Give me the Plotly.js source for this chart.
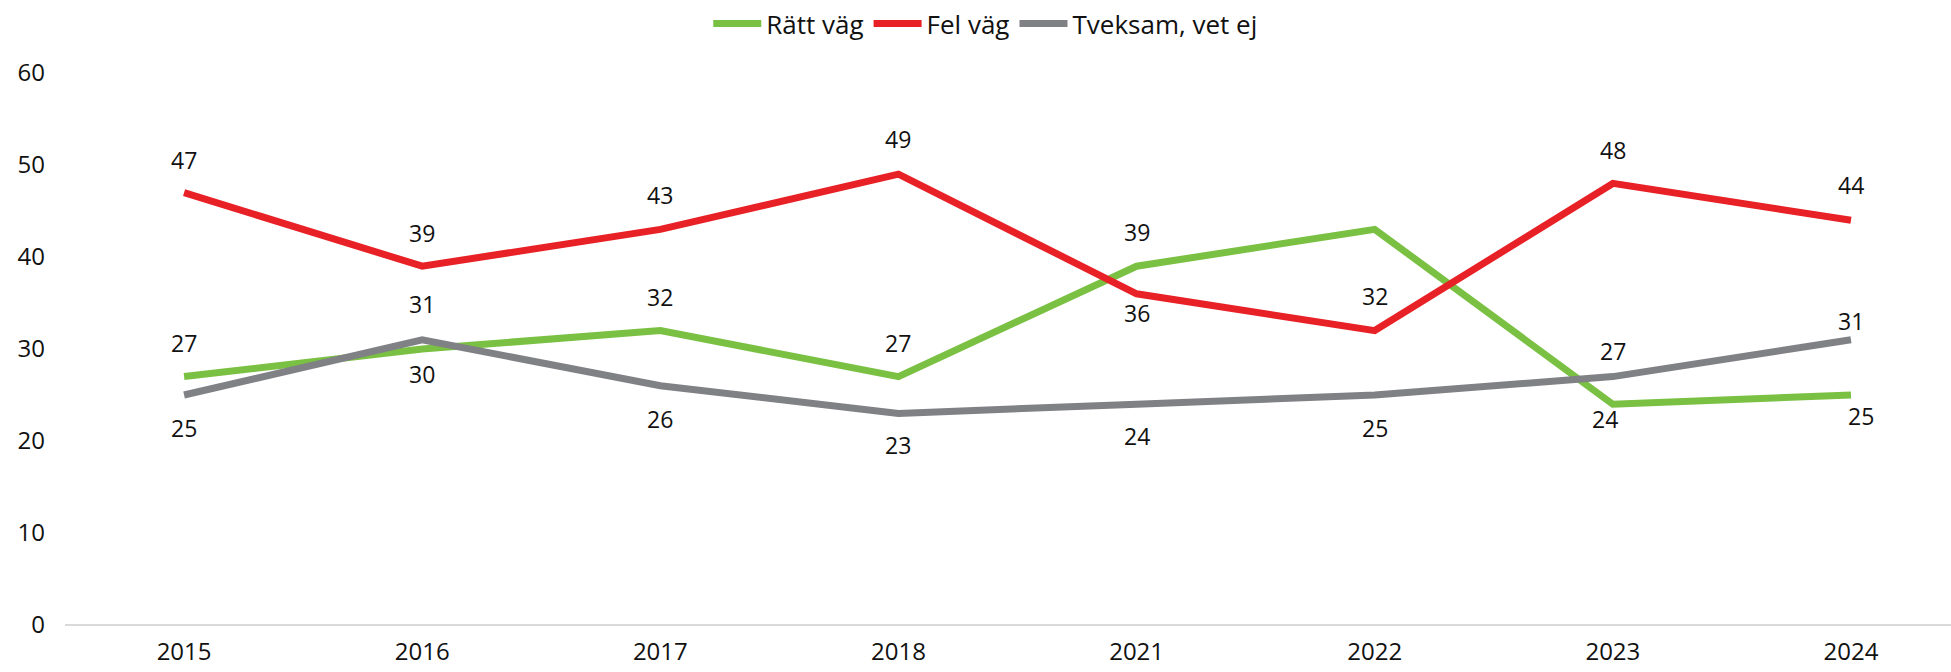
<!DOCTYPE html>
<html>
<head>
<meta charset="utf-8">
<script src="https://cdn.plot.ly/plotly-3.0.1.min.js"></script>
<style>
html,body{margin:0;padding:0;background:#fff;}
#chart{width:1951px;height:672px;}
</style>
</head>
<body>
<div id="chart"></div>
<script>
// ---- data ----
const years = ["2015", "2016", "2017", "2018", "2021", "2022", "2023", "2024"];
const rattVag = [27, 30, 32, 27, 39, 43, 24, 25];
const felVag = [47, 39, 43, 49, 36, 32, 48, 44];
const tveksam = [25, 31, 26, 23, 24, 25, 27, 31];
const seriesNames = ["Rätt väg", "Fel väg", "Tveksam, vet ej"];
const yTicks = [0, 10, 20, 30, 40, 50, 60];

// ---- label placement (style only): vertical pixel shift, null = no label ----
const rattShift = [34, -25, 34, 34, 34, null, -15, -21];
const felShift = [33, 33, 34, 35, -19, 35, 33, 35];
const tveksamShift = [-33, 36, -33, -32, -32, -33, 26, 19];
const rattXShift = [0, 0, 0, 0, 0, 0, -8, 10];

const colors = ["#7AC143", "#E82127", "#7F8184"];
const fontFam = "'Open Sans', Lato, sans-serif";

const allSeries = [rattVag, felVag, tveksam];
const traces = allSeries.map((vals, i) => ({
  type: "scatter",
  mode: "lines",
  x: years,
  y: vals,
  name: seriesNames[i],
  line: {color: colors[i], width: 7},
  hoverinfo: "x+y+name"
}));

const annotations = [];
const shifts = [rattShift, felShift, tveksamShift];
allSeries.forEach((vals, i) => {
  vals.forEach((v, j) => {
    if (shifts[i][j] === null) return;
    annotations.push({
      x: j, y: v, xref: "x", yref: "y",
      text: String(v), showarrow: false,
      yshift: shifts[i][j],
      xshift: i === 0 ? rattXShift[j] : 0,
      font: {family: fontFam, size: 23, color: "#111"}
    });
  });
});

const layout = {
  width: 1951, height: 672,
  margin: {l: 65, r: 0, t: 73, b: 47},
  paper_bgcolor: "#fff", plot_bgcolor: "#fff",
  font: {family: fontFam, size: 22, color: "#111"},
  showlegend: true,
  legend: {
    orientation: "h", xref: "container", yref: "container",
    x: 0.505, xanchor: "center", y: 1, yanchor: "top",
    font: {family: fontFam, size: 26, color: "#111"},
    itemwidth: 48, tracegroupgap: 0
  },
  xaxis: {
    type: "category", range: [-0.5, 7.42],
    showgrid: false, zeroline: false,
    showline: false, ticks: "",
    tickfont: {family: "'Liberation Sans Narrow', 'Open Sans', sans-serif", size: 24, color: "#111"},
    ticklabelstandoff: 10
  },
  yaxis: {
    range: [0, 60], tickvals: yTicks, ticktext: yTicks.map(String),
    showgrid: false, zeroline: true, zerolinecolor: "#d9d9d9", zerolinewidth: 2,
    showline: false, ticks: "",
    tickfont: {family: fontFam, size: 24, color: "#111"},
    ticklabelstandoff: 19
  },
  annotations: annotations
};

Plotly.newPlot("chart", traces, layout, {displayModeBar: false, staticPlot: true});
</script>
</body>
</html>
